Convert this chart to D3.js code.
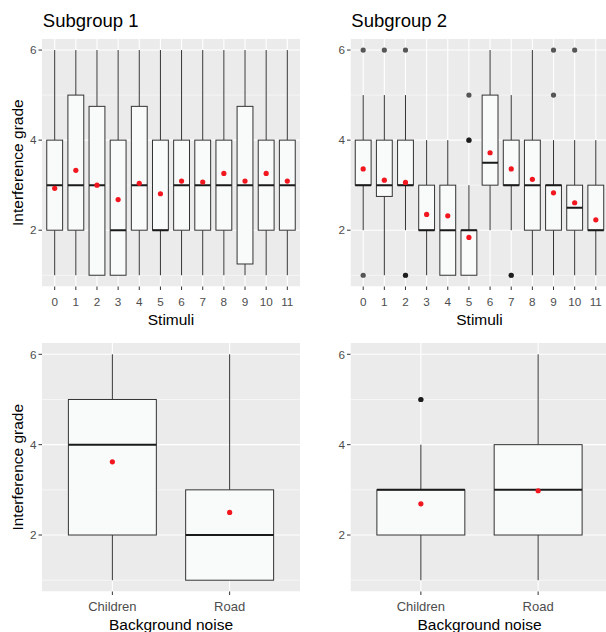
<!DOCTYPE html>
<html>
<head>
<meta charset="utf-8">
<script src="https://cdn.jsdelivr.net/npm/d3@7"></script>
<style>
html,body{margin:0;padding:0;background:#fff;}
svg{display:block;font-family:"Liberation Sans",Arial,sans-serif;}
</style>
</head>
<body>
<svg id="chart" width="606" height="632"></svg>
<script>
// ---------- data ----------
const stimuli = ["0","1","2","3","4","5","6","7","8","9","10","11"];
const noise = ["Children","Road"];
const yTicks = [2,4,6];
const yMinor = [1,3,5];
const panelTitles = ["Subgroup 1","Subgroup 2"];

// Subgroup 1, by stimulus
const s1Min  = [1,1,1,1,1,1,1,1,1,1,1,1];
const s1Q1   = [2,2,1,1,2,2,2,2,2,1.25,2,2];
const s1Med  = [3,3,3,2,3,2,3,3,3,3,3,3];
const s1Q3   = [4,5,4.75,4,4.75,4,4,4,4,4.75,4,4];
const s1Max  = [6,6,6,6,6,6,6,6,6,6,6,6];
const s1Mean = [2.93,3.33,3.0,2.68,3.04,2.81,3.09,3.07,3.26,3.09,3.26,3.09];
const s1Out  = [[],[],[],[],[],[],[],[],[],[],[],[]];

// Subgroup 2, by stimulus
const s2Min  = [2,1,2,1,1,1,2,2,1,1,1,1];
const s2Q1   = [3,2.75,3,2,1,1,3,3,2,2,2,2];
const s2Med  = [3,3,3,2,2,2,3.5,3,3,3,2.5,2];
const s2Q3   = [4,4,4,3,3,2,5,4,4,3,3,3];
const s2Max  = [5,5,5,4,4,3,6,5,6,4,4,4];
const s2Mean = [3.36,3.11,3.06,2.35,2.32,1.84,3.72,3.36,3.13,2.83,2.61,2.23];
const s2Out  = [[6,1],[6],[6,1,1],[],[],[4,4,5],[],[1,1],[],[6,5],[6],[]];

// Subgroup 1, by background noise
const n1Min  = [1,1];
const n1Q1   = [2,1];
const n1Med  = [4,2];
const n1Q3   = [5,3];
const n1Max  = [6,6];
const n1Mean = [3.62,2.5];
const n1Out  = [[],[]];

// Subgroup 2, by background noise
const n2Min  = [1,1];
const n2Q1   = [2,2];
const n2Med  = [3,3];
const n2Q3   = [3,4];
const n2Max  = [4,6];
const n2Mean = [2.69,2.98];
const n2Out  = [[5,5],[]];

// ---------- drawing ----------
const svg = d3.select("#chart");
const defs = svg.append("defs");

function buildRows(cats, mn, q1, md, q3, mx, mean, out){
  return cats.map((c,i)=>({cat:c,min:mn[i],q1:q1[i],med:md[i],q3:q3[i],max:mx[i],mean:mean[i],out:out[i]}));
}

function panel(opts){
  const {x0,x1,y0,y1,cats,rows,title,xTitle,showYTitle,xTickSize,id} = opts;
  const g = svg.append("g");
  const x = d3.scalePoint().domain(cats).range([x0,x1]).padding(0.6);
  const y = d3.scaleLinear().domain([0.75,6.25]).range([y1,y0]);
  const bw = x.step()*0.75;

  defs.append("clipPath").attr("id",id).append("rect")
    .attr("x",x0).attr("y",y0).attr("width",x1-x0).attr("height",y1-y0);
  const pg = g.append("g").attr("clip-path",`url(#${id})`);

  pg.append("rect").attr("x",x0).attr("y",y0).attr("width",x1-x0).attr("height",y1-y0).attr("fill","#EBEBEB");
  // minor grid
  pg.selectAll(".ymin").data(yMinor).join("line")
    .attr("x1",x0).attr("x2",x1).attr("y1",d=>y(d)).attr("y2",d=>y(d))
    .attr("stroke","#fff").attr("stroke-width",0.55);
  // major grid
  pg.selectAll(".ymaj").data(yTicks).join("line")
    .attr("x1",x0).attr("x2",x1).attr("y1",d=>y(d)).attr("y2",d=>y(d))
    .attr("stroke","#fff").attr("stroke-width",1.1);
  pg.selectAll(".xmaj").data(cats).join("line")
    .attr("x1",d=>x(d)).attr("x2",d=>x(d)).attr("y1",y0).attr("y2",y1)
    .attr("stroke","#fff").attr("stroke-width",1.1);

  // whiskers
  pg.selectAll(".wu").data(rows).join("line")
    .attr("x1",d=>x(d.cat)).attr("x2",d=>x(d.cat)).attr("y1",d=>y(d.q3)).attr("y2",d=>y(d.max))
    .attr("stroke","#333").attr("stroke-width",1);
  pg.selectAll(".wl").data(rows).join("line")
    .attr("x1",d=>x(d.cat)).attr("x2",d=>x(d.cat)).attr("y1",d=>y(d.q1)).attr("y2",d=>y(d.min))
    .attr("stroke","#333").attr("stroke-width",1);
  // boxes
  pg.selectAll(".box").data(rows).join("rect")
    .attr("x",d=>x(d.cat)-bw/2).attr("width",bw)
    .attr("y",d=>y(d.q3)).attr("height",d=>y(d.q1)-y(d.q3))
    .attr("fill","#F9FAFA").attr("stroke","#333").attr("stroke-width",1);
  // medians
  pg.selectAll(".med").data(rows).join("line")
    .attr("x1",d=>x(d.cat)-bw/2).attr("x2",d=>x(d.cat)+bw/2)
    .attr("y1",d=>y(d.med)).attr("y2",d=>y(d.med))
    .attr("stroke","#1A1A1A").attr("stroke-width",2);
  // outliers
  const outs = rows.flatMap(d=>d.out.map(v=>({cat:d.cat,v})));
  pg.selectAll(".out").data(outs).join("circle")
    .attr("cx",d=>x(d.cat)).attr("cy",d=>y(d.v)).attr("r",2.6)
    .attr("fill","#000").attr("fill-opacity",0.65);
  // means
  pg.selectAll(".mean").data(rows).join("circle")
    .attr("cx",d=>x(d.cat)).attr("cy",d=>y(d.mean)).attr("r",2.6)
    .attr("fill","#F2161E");

  // y axis ticks and labels
  g.selectAll(".yt").data(yTicks).join("line")
    .attr("x1",x0-3.5).attr("x2",x0).attr("y1",d=>y(d)).attr("y2",d=>y(d))
    .attr("stroke","#333").attr("stroke-width",1);
  g.selectAll(".yl").data(yTicks).join("text")
    .attr("x",x0-5.5).attr("y",d=>y(d)).attr("dy","0.36em")
    .attr("text-anchor","end").attr("font-size",11.7).attr("fill","#4D4D4D").text(d=>d);
  // x axis ticks and labels
  g.selectAll(".xt").data(cats).join("line")
    .attr("x1",d=>x(d)).attr("x2",d=>x(d)).attr("y1",y1).attr("y2",y1+3.5)
    .attr("stroke","#333").attr("stroke-width",1);
  g.selectAll(".xl").data(cats).join("text")
    .attr("x",d=>x(d)).attr("y",y1+19.5)
    .attr("text-anchor","middle").attr("font-size",xTickSize).attr("fill","#4D4D4D").text(d=>d);
  // x title
  g.append("text").attr("x",(x0+Math.min(x1,606))/2 + (x1>606? (x1-606)/2:0)).attr("y",y1+38.5)
    .attr("text-anchor","middle").attr("font-size",15.5).attr("fill","#000").text(xTitle);
  if(showYTitle){
    g.append("text").attr("transform",`translate(22.5,${(y0+y1)/2}) rotate(-90)`)
      .attr("text-anchor","middle").attr("font-size",15.5).attr("fill","#000").text("Interference grade");
  }
  if(title){
    g.append("text").attr("x",x0+0.8).attr("y",26.5).attr("font-size",18.5).attr("fill","#000").text(title);
  }
}

panel({id:"c1",x0:42,x1:300,y0:38.8,y1:286.5,cats:stimuli,
  rows:buildRows(stimuli,s1Min,s1Q1,s1Med,s1Q3,s1Max,s1Mean,s1Out),
  title:panelTitles[0],xTitle:"Stimuli",showYTitle:true,xTickSize:11.7});
panel({id:"c2",x0:350.5,x1:608.5,y0:38.8,y1:286.5,cats:stimuli,
  rows:buildRows(stimuli,s2Min,s2Q1,s2Med,s2Q3,s2Max,s2Mean,s2Out),
  title:panelTitles[1],xTitle:"Stimuli",showYTitle:false,xTickSize:11.7});
panel({id:"c3",x0:42,x1:300,y0:343,y1:591.5,cats:noise,
  rows:buildRows(noise,n1Min,n1Q1,n1Med,n1Q3,n1Max,n1Mean,n1Out),
  title:null,xTitle:"Background noise",showYTitle:true,xTickSize:13});
panel({id:"c4",x0:350.5,x1:608.5,y0:343,y1:591.5,cats:noise,
  rows:buildRows(noise,n2Min,n2Q1,n2Med,n2Q3,n2Max,n2Mean,n2Out),
  title:null,xTitle:"Background noise",showYTitle:false,xTickSize:13});
</script>
</body>
</html>
